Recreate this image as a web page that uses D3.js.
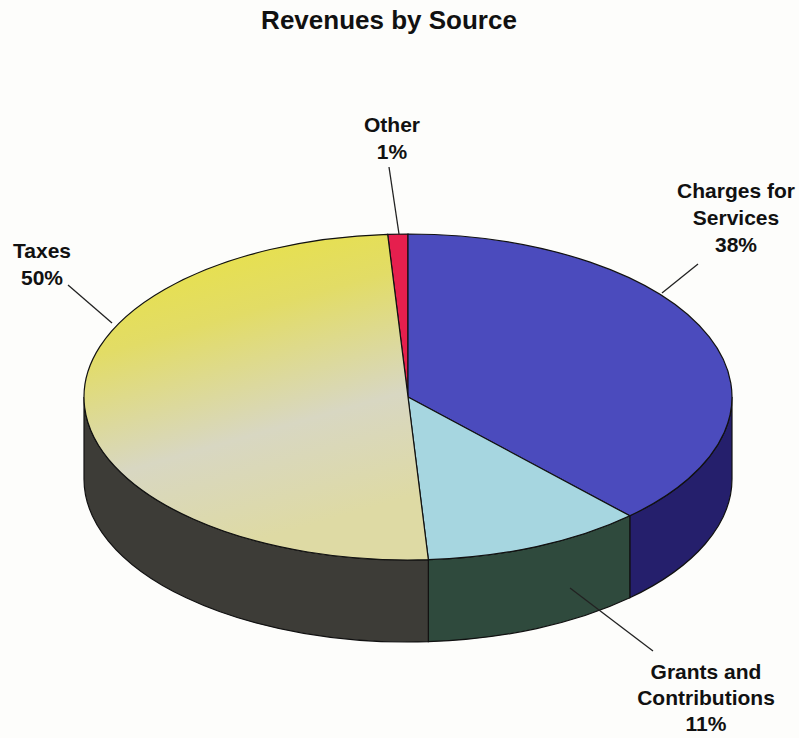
<!DOCTYPE html>
<html>
<head>
<meta charset="utf-8">
<script src="https://cdn.jsdelivr.net/npm/d3@7"></script>
<style>
  body { margin: 0; background: #fdfdfb; }
  svg { display: block; font-family: "Liberation Sans", Arial, sans-serif; font-weight: bold; }
</style>
</head>
<body>
<div id="chart"></div>
<script>
(function() {

  // data, clockwise from 12 o'clock
  const categories = ["Other", "Charges for Services", "Grants and Contributions", "Taxes"]
  const values = [1, 38, 11, 50]
  const labelLines = [["Other", "1%"], ["Charges for", "Services", "38%"], ["Grants and", "Contributions", "11%"], ["Taxes", "50%"]]

  const topColors = ["#e61f4e", "#4b4bbd", "#a6d6e0", "url(#taxGrad)"]
  const sideColors = ["#8a1030", "#251f6c", "#2f4a3d", "#3d3c37"]

  const width = 799, height = 738
  const cx = 408, cy = 397, rx = 324, ry = 163, depth = 82

  // label layout: text centre, first baseline, line gap, leader line
  const labelPos = [
    { x: 392, y: 132, gap: 27, line: [[389, 167], [399, 234]] },
    { x: 736, y: 198, gap: 27, line: [[698, 264], [662, 293]] },
    { x: 706, y: 679, gap: 26, line: [[653, 651], [570, 588]] },
    { x: 42,  y: 258, gap: 27, line: [[68, 285], [112, 323]] }
  ]

  const svg = d3.select("#chart")
    .append("svg")
      .attr("width", width)
      .attr("height", height)

  const defs = svg.append("defs")
  const grad = defs.append("linearGradient")
    .attr("id", "taxGrad")
    .attr("x1", "0").attr("y1", "0").attr("x2", "0.3").attr("y2", "1")
  grad.append("stop").attr("offset", "0").attr("stop-color", "#ebe43a")
  grad.append("stop").attr("offset", "0.35").attr("stop-color", "#e2dc66")
  grad.append("stop").attr("offset", "0.7").attr("stop-color", "#d8d7c2")
  grad.append("stop").attr("offset", "1").attr("stop-color", "#dedaa4")

  svg.append("text")
    .attr("x", 389)
    .attr("y", 29)
    .attr("text-anchor", "middle")
    .attr("font-size", 26)
    .attr("fill", "#111")
    .text("Revenues by Source")

  const pie = d3.pie().sort(null).startAngle(-0.01 * 2 * Math.PI).endAngle(0.99 * 2 * Math.PI)
  const arcs = pie(values)

  const pt = (a, dy) => [cx + rx * Math.sin(a), cy - ry * Math.cos(a) + (dy || 0)]

  // side walls (only the front half is visible)
  const sides = svg.append("g")
  arcs.forEach((d, i) => {
    const s = Math.max(d.startAngle, Math.PI / 2)
    const e = Math.min(d.endAngle, 3 * Math.PI / 2)
    if (s >= e) return
    const p0 = pt(s), p1 = pt(e), p2 = pt(e, depth), p3 = pt(s, depth)
    const path = `M${p0}A${rx},${ry} 0 0 1 ${p1}L${p2}A${rx},${ry} 0 0 0 ${p3}Z`
    sides.append("path")
      .attr("d", path)
      .attr("fill", sideColors[i])
      .attr("stroke", "#111")
      .attr("stroke-width", 1.2)
  })

  // top face
  const arc = d3.arc().innerRadius(0).outerRadius(rx)
  svg.append("g")
      .attr("transform", `translate(${cx},${cy}) scale(1,${ry / rx})`)
    .selectAll("path")
    .data(arcs)
    .join("path")
      .attr("d", arc)
      .attr("fill", (d, i) => topColors[i])
      .attr("stroke", "#111")
      .attr("stroke-width", 1.2)
      .attr("vector-effect", "non-scaling-stroke")

  // labels
  const labels = svg.append("g")
  categories.forEach((c, i) => {
    const p = labelPos[i]
    labels.append("line")
      .attr("x1", p.line[0][0]).attr("y1", p.line[0][1])
      .attr("x2", p.line[1][0]).attr("y2", p.line[1][1])
      .attr("stroke", "#222")
      .attr("stroke-width", 1.3)
    const t = labels.append("text")
      .attr("text-anchor", "middle")
      .attr("font-size", 21)
      .attr("fill", "#111")
    labelLines[i].forEach((l, j) => {
      t.append("tspan")
        .attr("x", p.x)
        .attr("y", p.y + j * p.gap)
        .text(l)
    })
  })

})();
</script>
</body>
</html>
